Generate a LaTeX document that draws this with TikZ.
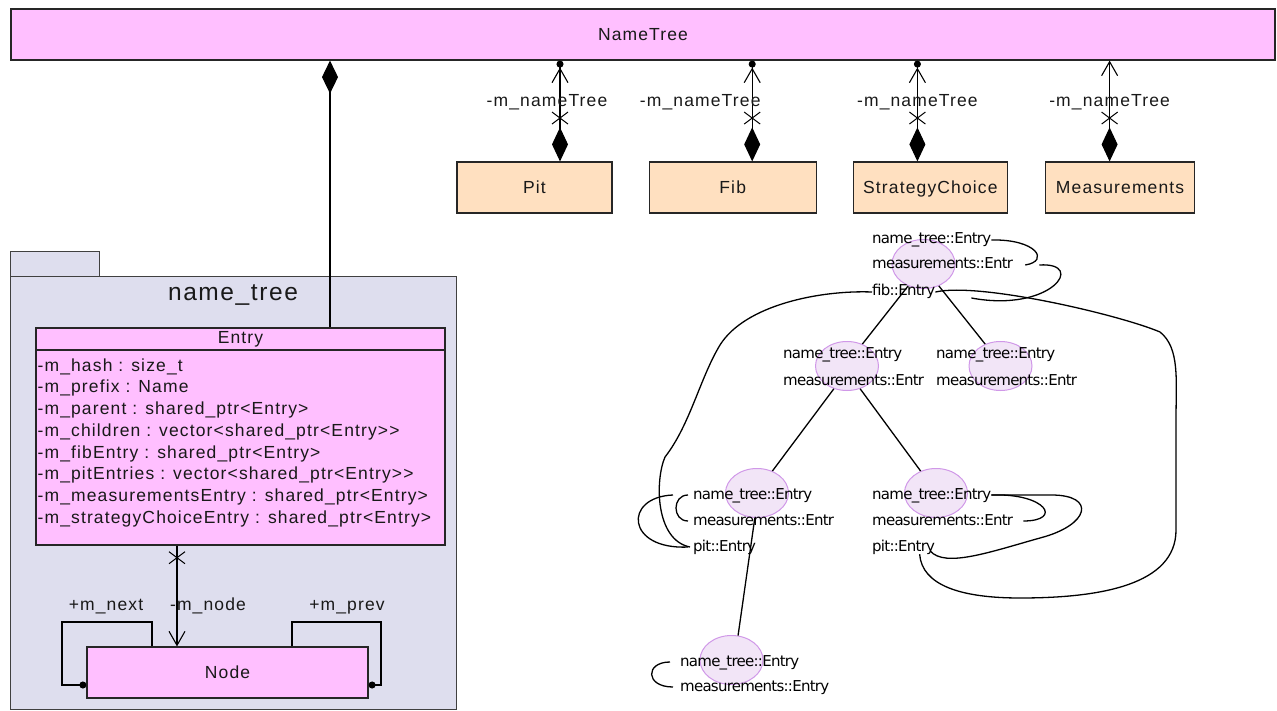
\documentclass[tikz,border=0pt]{standalone}
\usepackage{fontspec}
\usetikzlibrary{arrows.meta,positioning}
\usetikzlibrary{shapes}
\newfontfamily\umlfont[LetterSpace=6.5]{Liberation Sans}
\newfontfamily\objfont[LetterSpace=-5]{DejaVu Sans}
\definecolor{classpink}{RGB}{255,191,255}
\definecolor{tablepeach}{RGB}{255,224,192}
\definecolor{pkggrey}{RGB}{222,222,238}
\definecolor{objfill}{RGB}{242,229,247}
\definecolor{objdraw}{RGB}{208,152,232}
\tikzset{
        umltext/.style={font=\umlfont\fontsize{17.5}{21.7}\selectfont, text=black!90},
        % Classes of the name tree
        uml_class/.style={umltext, rectangle, draw=black!85, line width=1.2pt, fill=classpink, inner sep=0pt},
        % Tables that keep a pointer to the tree
        uml_table/.style={uml_class, fill=tablepeach, minimum height=51pt, text height=12.5pt, text depth=1pt},
        % Package folder
        pkg_body/.style={rectangle, draw=black!75, line width=1pt, fill=pkggrey, inner sep=0pt},
        pkg_title/.style={font=\umlfont\fontsize{24.5}{28}\selectfont, text=black!90},
        % Attribute list
        attr_list/.style={umltext, align=left, inner sep=0pt},
        % Role names
        role_label/.style={umltext, inner sep=1pt},
        % Non-navigable end
        cross_mark/.style={cross out, draw=black, line width=1pt, minimum width=15pt, minimum height=11pt, inner sep=0pt},
        % Links
        composite/.style={line width=1.1pt, -{Diamond[length=33pt,width=16pt]}},
        nav_link/.style={line width=1.1pt, {Diamond[length=34pt,width=16pt]}-{Straight Barb[length=14pt,width=16pt] Circle[length=7pt]}},
        nav_link_open/.style={line width=1.1pt, {Diamond[length=34pt,width=16pt]}-{Straight Barb[length=14pt,width=16pt]}},
        nav_down/.style={line width=1.1pt, -{Straight Barb[length=14pt,width=16pt]}},
        self_link/.style={line width=1.1pt, -{Circle[length=7pt]}},
        % Object instances
        obj_node/.style={ellipse, draw=objdraw, fill=objfill, line width=1pt, minimum width=63pt, minimum height=49pt, inner sep=0pt},
        obj_label/.style={font=\objfont\fontsize{15}{17}\selectfont, anchor=west, inner sep=0pt, text height=11pt, text depth=3pt},
        obj_link/.style={line width=1.3pt}
}
\begin{document}
\begin{tikzpicture}[x=1pt, y=-1pt]
    \useasboundingbox (0,0) rectangle (1277,711);

    % NameTree and the tables
    \node[uml_class, minimum width=1264pt, minimum height=51pt] (nametree) at (643,34.5) {NameTree};
    \node[uml_table, minimum width=155pt] (pit) at (534.5,187.5) {Pit};
    \node[uml_table, minimum width=167pt, right=36pt of pit] (fib) {Fib};
    \node[uml_table, minimum width=154pt, right=36pt of fib] (strategy) {StrategyChoice};
    \node[uml_table, minimum width=149pt, right=37pt of strategy] (measure) {Measurements};

    % name_tree package
    \node[pkg_body, minimum width=446pt, minimum height=432pt] (pkg) at (233,493) {};
    \node[pkg_body, minimum width=89pt, minimum height=25pt, anchor=south west] (pkgtab) at (10,277) {};
    \node[pkg_title] (pkgname) at (233,295) {name\_tree};

    \node[uml_class, minimum width=409pt, minimum height=22pt] (entryhead) at (240.5,339) {Entry};
    \node[uml_class, minimum width=409pt, minimum height=195pt, below=-1.2pt of entryhead] (entrybody) {};
    \node[attr_list, anchor=north west] (entryattrs) at ([xshift=2pt,yshift=-9pt]entrybody.north west) {%
        -m\_hash : size\_t\\
        -m\_prefix : Name\\
        -m\_parent : shared\_ptr<Entry>\\
        -m\_children : vector<shared\_ptr<Entry>{}>\\
        -m\_fibEntry : shared\_ptr<Entry>\\
        -m\_pitEntries : vector<shared\_ptr<Entry>{}>\\
        -m\_measurementsEntry : shared\_ptr<Entry>\\
        -m\_strategyChoiceEntry : shared\_ptr<Entry>};
    \node[uml_class, minimum width=281pt, minimum height=51pt] (nodecls) at (227.5,672.5) {Node};

    % composition
    \draw[composite] ([xshift=89.5pt]entryhead.north) -- ([xshift=89.5pt]entryhead.north |- nametree.south);

    % tables to NameTree
    \draw[nav_link] ([xshift=25.5pt]pit.north) -- ([xshift=25.5pt]pit.north |- nametree.south)
        node[cross_mark, pos=0.43] (pitx) {}
        node[role_label, pos=0.59, xshift=-13pt] (pitrole) {-m\_nameTree};
    \draw[nav_link] ([xshift=19.5pt]fib.north) -- ([xshift=19.5pt]fib.north |- nametree.south)
        node[cross_mark, pos=0.43] (fibx) {}
        node[role_label, pos=0.59, xshift=-52pt] (fibrole) {-m\_nameTree};
    \draw[nav_link] ([xshift=-13pt]strategy.north) -- ([xshift=-13pt]strategy.north |- nametree.south)
        node[cross_mark, pos=0.43] (strategyx) {}
        node[role_label, pos=0.59] (strategyrole) {-m\_nameTree};
    \draw[nav_link_open] ([xshift=-10.5pt]measure.north) -- ([xshift=-10.5pt]measure.north |- nametree.south)
        node[cross_mark, pos=0.43] (measurex) {}
        node[role_label, pos=0.59] (measurerole) {-m\_nameTree};

    % Entry to Node
    \draw[nav_down] ([xshift=-63.5pt]entrybody.south) -- ([xshift=-63.5pt]entrybody.south |- nodecls.north)
        node[cross_mark, pos=0.12] (nodex) {}
        node[role_label, pos=0.6, xshift=31pt] (noderole) {-m\_node};
    \draw[self_link] ([xshift=-75.5pt]nodecls.north) |- (62,622) |- ([yshift=-12.5pt]nodecls.west);
    \node[role_label] (nextrole) at (106,607) {+m\_next};
    \draw[self_link] ([xshift=64.5pt]nodecls.north) |- (381,622) |- ([yshift=-12.5pt]nodecls.east);
    \node[role_label] (prevrole) at (347,607) {+m\_prev};

    % object instances
    \node[obj_node] (e1) at (923.5,264) {};
    \node[obj_node] (e2) at (847,366) {};
    \node[obj_node] (e3) at (1000.5,366) {};
    \node[obj_node] (e4) at (757,493) {};
    \node[obj_node] (e5) at (936,493) {};
    \node[obj_node] (e6) at (731.5,660) {};

    \node[obj_label] (e1a) at (872,240) {name\_tree::Entry};
    \node[obj_label] (e1b) at (872,265) {measurements::Entr};
    \node[obj_label] (e1c) at (872,292) {fib::Entry};
    \node[obj_label] (e2a) at (783,355) {name\_tree::Entry};
    \node[obj_label] (e2b) at (783,381) {measurements::Entr};
    \node[obj_label] (e3a) at (936,355) {name\_tree::Entry};
    \node[obj_label] (e3b) at (936,381) {measurements::Entr};
    \node[obj_label] (e4a) at (693,495) {name\_tree::Entry};
    \node[obj_label] (e4b) at (693,521) {measurements::Entr};
    \node[obj_label] (e4c) at (693,547) {pit::Entry};
    \node[obj_label] (e5a) at (872,495) {name\_tree::Entry};
    \node[obj_label] (e5b) at (872,521) {measurements::Entr};
    \node[obj_label] (e5c) at (872,547) {pit::Entry};
    \node[obj_label] (e6a) at (680,662) {name\_tree::Entry};
    \node[obj_label] (e6b) at (680,687) {measurements::Entry};

    % tree edges
    \draw[obj_link] (e1.235) -- (e2.55);
    \draw[obj_link] (e1.305) -- (e3.125);
    \draw[obj_link] (e2.240) -- (e4.55);
    \draw[obj_link] (e2.300) -- (e5.125);
    \draw[obj_link] (e4.265) -- (e6.75);

    % table entry links
    \draw[obj_link] (e1a.east) .. controls +(45,-1) and +(25,-4) .. ([xshift=12pt]e1b.east);
    \draw[obj_link] ([xshift=26pt]e1b.east) .. controls +(48,-3) and +(80,15) .. ([xshift=36pt,yshift=-6pt]e1c.east);
    \draw[obj_link] (e1c.east) .. controls (980,282) and (1120,315) .. (1160,332)
        .. controls (1180,348) and (1176,380) .. (1176,420) -- (1176,530)
        .. controls (1176,585) and (1100,598) .. (1020,598)
        .. controls (960,598) and (922,585) .. ([xshift=16pt]e5c.south);
    \draw[obj_link] (e1c.west) .. controls (820,290) and (745,305) .. (720,345)
        .. controls (700,378) and (690,425) .. (665,457)
        .. controls (655,480) and (655,540) .. ([xshift=-3pt]e4c.west);
    \draw[obj_link] ([xshift=-5pt]e4a.west) .. controls +(-16,0) and +(-16,0) .. ([xshift=-5pt]e4b.west);
    \draw[obj_link] ([xshift=-20pt]e4a.west) .. controls +(-50,2) and +(-62,3) .. ([xshift=-5pt]e4c.west);
    \draw[obj_link] (e5a.east) .. controls +(55,-2) and +(40,0) .. ([xshift=10pt]e5b.east);
    \draw[obj_link] (e5a.east) -- ++(60,0) .. controls +(45,0) and +(50,-13) .. (1040,538)
        .. controls (990,552) and (945,568) .. ([xshift=-5pt,yshift=-4pt]e5c.east);
    \draw[obj_link] ([xshift=-10pt]e6a.west) .. controls +(-25,0) and +(-28,0) .. ([xshift=-7pt]e6b.west);
\end{tikzpicture}
\end{document}
